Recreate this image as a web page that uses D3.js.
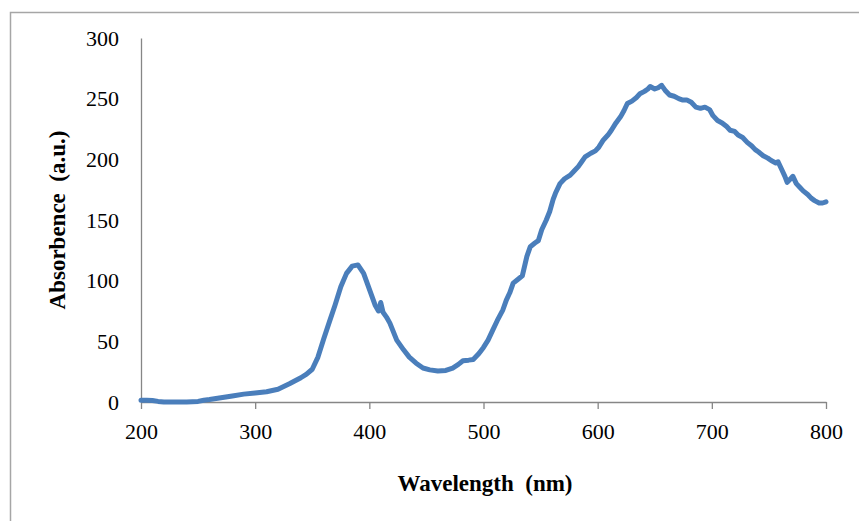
<!DOCTYPE html>
<html>
<head>
<meta charset="utf-8">
<script src="https://cdn.jsdelivr.net/npm/d3@7"></script>
<style>
  body { margin: 0; background: #fff; }
  text { white-space: pre; }
</style>
</head>
<body>
<div class="chart"></div>
<script>
// Absorbance spectrum
const wavelength = [
  200, 205, 210, 215, 220, 230, 240, 250, 255, 260, 270, 280, 290, 300, 310,
  320, 330, 340, 345, 350, 355, 360, 365, 370, 375, 380, 385, 390, 395, 400,
  405, 408, 410, 412, 415, 418, 424, 430, 435, 441, 447, 453, 460, 467, 473,
  478, 482, 487, 491, 496, 500, 504, 508, 512, 517, 520, 523, 526, 530, 534,
  538, 541, 545, 548, 551, 555, 558, 561, 563, 567, 571, 576, 580, 583, 586,
  589, 594, 598, 601, 605, 609, 612, 616, 620, 623, 626, 630, 634, 637, 641,
  644, 646, 650, 653, 656, 659, 663, 667, 671, 674, 678, 682, 686, 690, 694,
  698, 701, 705, 709, 713, 716, 720, 723, 727, 731, 735, 738, 741, 745, 749,
  752, 756, 758, 761, 764, 766, 769, 771, 774, 777, 780, 784, 787, 790, 794,
  797, 800
];
const absorbance = [
  1.5, 1.5, 1.2, 0.5, 0, 0, 0, 0.5, 1.5, 2, 3.5, 5, 6.5, 7.5, 8.5,
  10.5, 15, 20, 23, 27, 37, 52, 66, 80, 95, 106, 112, 113, 106, 93,
  80, 75, 82, 74, 70, 65, 51, 43, 37, 32, 28, 26.5, 25.5, 26, 28,
  31, 34, 34.5, 35, 40, 45, 51, 59, 67, 76, 84, 90, 98, 101, 104,
  120, 128, 131, 133, 142, 150, 157, 167, 172, 180, 184, 187, 191, 194, 198,
  202, 205, 207, 210, 216, 220, 224, 230, 235, 240, 246, 248, 251, 254, 256,
  258, 260, 258, 259, 261, 257, 253, 252, 250, 249, 249, 247, 243, 242, 243,
  241, 236, 232, 230, 227, 224, 223, 220, 218, 214, 211, 208, 206, 203, 201,
  199, 197, 198, 192, 186, 181, 184, 186, 180, 177, 174, 171, 168, 166, 164,
  164, 165
];
const xTicks = [200, 300, 400, 500, 600, 700, 800];
const yTicks = [0, 50, 100, 150, 200, 250, 300];

const data = wavelength.map((w, i) => ({ w: w, a: absorbance[i] }));

const W = 859;
const H = 521;
const margin = { top: 38, right: 33, bottom: 119, left: 141 };
const width = W - margin.left - margin.right;
const height = H - margin.top - margin.bottom;

const svg = d3
  .select(".chart")
  .append("svg")
  .attr("width", W)
  .attr("height", H);

// outer frame (open on right / bottom, like the cropped screenshot)
svg
  .append("path")
  .attr("d", "M10.5," + H + "V12.5H" + W)
  .attr("fill", "none")
  .attr("stroke", "#a6a6a6")
  .attr("stroke-width", 1.5);

const g = svg
  .append("g")
  .attr("transform", "translate(" + margin.left + "," + margin.top + ")");

const xScale = d3.scaleLinear().domain([200, 800]).range([0, width]);
const yScale = d3.scaleLinear().domain([0, 300]).range([height, 0]);

// y axis: line only, labels to the left
const yAxis = d3
  .axisLeft(yScale)
  .tickValues(yTicks)
  .tickSize(0)
  .tickPadding(22);
const yAxisG = g.append("g").attr("class", "axis y-axis").call(yAxis);
yAxisG.select(".domain").attr("stroke", "#868686").attr("stroke-width", 1.3);
yAxisG
  .selectAll("text")
  .attr("font-family", "'Liberation Serif', 'Times New Roman', serif")
  .attr("font-size", 22)
  .attr("fill", "#000");

// x axis with outside ticks
const xAxis = d3
  .axisBottom(xScale)
  .tickValues(xTicks)
  .tickSizeInner(7)
  .tickSizeOuter(0)
  .tickPadding(14);
const xAxisG = g
  .append("g")
  .attr("class", "axis x-axis")
  .attr("transform", "translate(0," + height + ")")
  .call(xAxis);
xAxisG.select(".domain").attr("stroke", "#868686").attr("stroke-width", 1.3);
xAxisG.selectAll(".tick line").attr("stroke", "#868686").attr("stroke-width", 1.3);
xAxisG
  .selectAll("text")
  .attr("font-family", "'Liberation Serif', 'Times New Roman', serif")
  .attr("font-size", 22)
  .attr("fill", "#000");

// spectrum
const line = d3
  .line()
  .x((d) => xScale(d.w))
  .y((d) => yScale(d.a))
  .curve(d3.curveLinear);

g.append("path")
  .datum(data)
  .attr("d", line)
  .attr("fill", "none")
  .attr("stroke", "#4a7ebb")
  .attr("stroke-width", 5)
  .attr("stroke-linejoin", "round")
  .attr("stroke-linecap", "round");

// axis titles
svg
  .append("text")
  .attr("x", 485)
  .attr("y", 491)
  .attr("text-anchor", "middle")
  .attr("font-family", "'Liberation Serif', 'Times New Roman', serif")
  .attr("font-weight", "bold")
  .attr("font-size", 23)
  .text("Wavelength  (nm)");

svg
  .append("text")
  .attr("transform", "translate(65,220) rotate(-90)")
  .attr("text-anchor", "middle")
  .attr("font-family", "'Liberation Serif', 'Times New Roman', serif")
  .attr("font-weight", "bold")
  .attr("font-size", 23)
  .text("Absorbence  (a.u.)");
</script>
</body>
</html>
